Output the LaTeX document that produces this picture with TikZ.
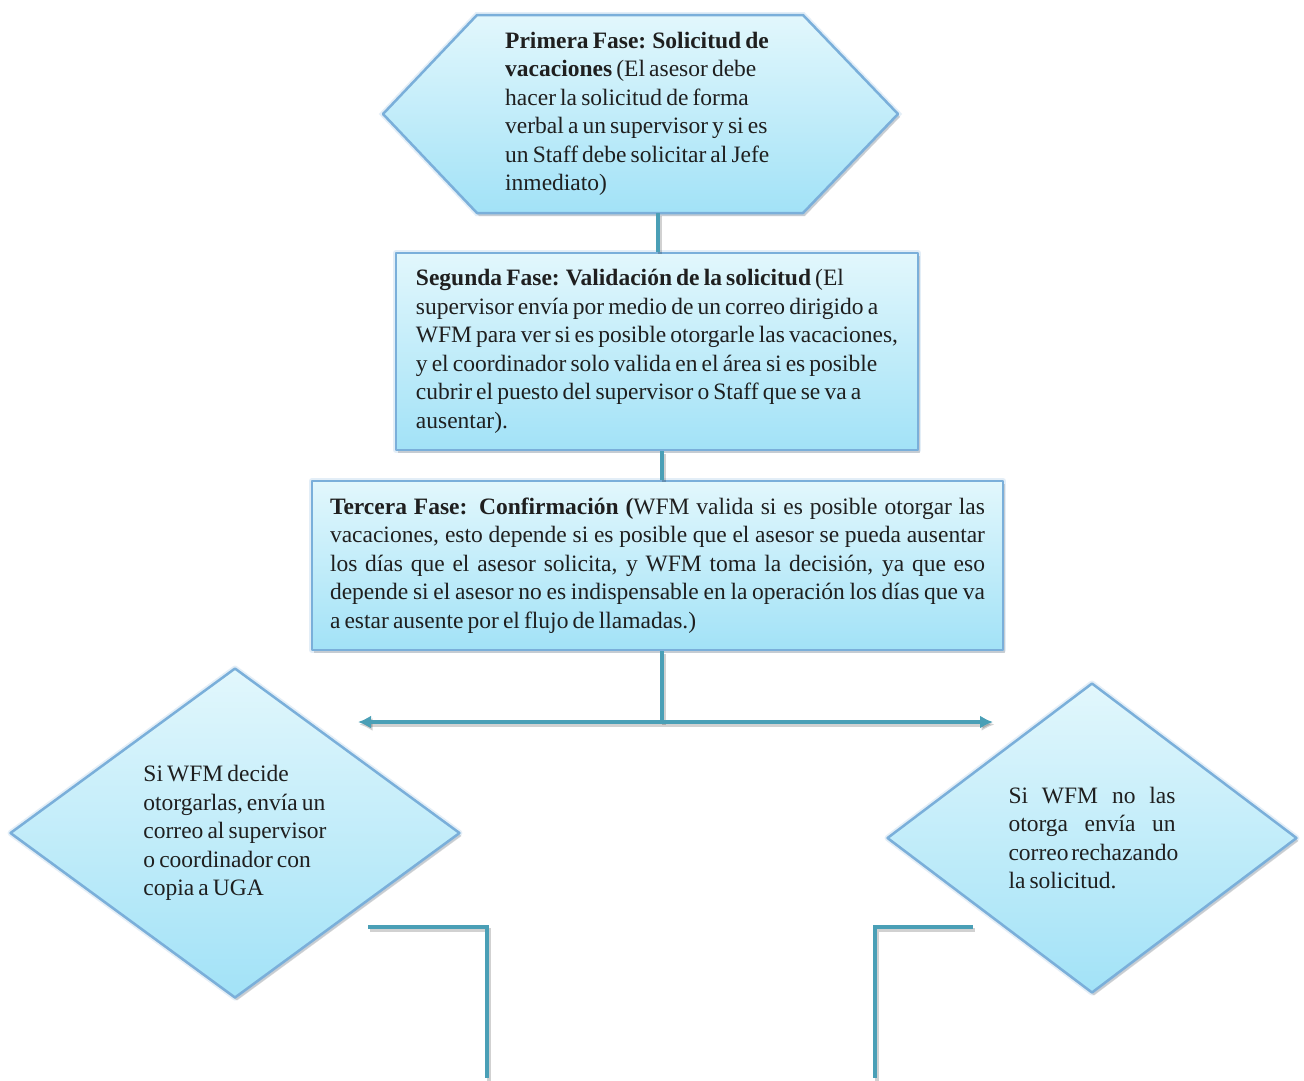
\documentclass[tikz,border=0pt]{standalone}
\usepackage{fontspec}
\setmainfont{LiberationSerif}[Extension=.ttf, UprightFont=*-Regular, BoldFont=*-Bold, ItalicFont=*-Italic, BoldItalicFont=*-BoldItalic, WordSpace=0.7]
\usetikzlibrary{shapes.geometric,shadows,arrows.meta}
\definecolor{fillTop}{HTML}{E2F7FC}
\definecolor{fillBot}{HTML}{A2E2F7}
\definecolor{edgeC}{HTML}{7AAFDA}
\definecolor{lineC}{HTML}{4A9FB6}
\begin{document}
\begin{tikzpicture}[x=1pt,y=-1pt,
  shapebox/.style={draw=edgeC, line width=2.5pt, top color=fillTop, bottom color=fillBot,
    preaction={draw=edgeC!60, opacity=0.35, line width=6pt},
    drop shadow={opacity=0.3, shadow xshift=2pt, shadow yshift=-3pt}, line join=round},
  txt/.style={inner sep=0pt, font=\fontsize{23.5}{28.5}\selectfont, align=left, text=black!88},
  conn/.style={draw=lineC, line width=4pt,
    preaction={draw=black, opacity=0.18, line width=4pt, transform canvas={xshift=1.5pt,yshift=-2.5pt}}},
  arr/.style={conn, {Latex[length=13pt,width=13pt]}-{Latex[length=13pt,width=13pt]}}
]
\fill[white] (0,0) rectangle (1304,1080);
\useasboundingbox (0,0) rectangle (1304,1080);

% Primera fase (hexagon)
\path[shapebox] (383,114) -- (477,15) -- (803,15) -- (898,114) -- (803,213) -- (477,213) -- cycle;
\coordinate (hexS) at (658,213);
\node[txt, anchor=west] (t1) at (505,114) {\textbf{Primera Fase: Solicitud de}\\
\textbf{vacaciones} (El asesor debe\\
hacer la solicitud de forma\\
verbal a un supervisor y si es\\
un Staff debe solicitar al Jefe\\
inmediato)};

% Segunda fase
\node[shapebox, txt, minimum width=522pt, minimum height=197pt] (b2) at (657,351.5) {\textbf{Segunda Fase: Validación de la solicitud} (El\\
supervisor envía por medio de un correo dirigido a\\
WFM para ver si es posible otorgarle las vacaciones,\\
y el coordinador solo valida en el área si es posible\\
cubrir el puesto del supervisor o Staff que se va a\\
ausentar).};

% Tercera fase
\node[shapebox, txt, minimum width=691pt, minimum height=169pt] (b3) at (657.5,565.5) {\makebox[655pt][s]{\textbf{Tercera Fase: Confirmación (}WFM valida si es posible otorgar las}\\
\makebox[655pt][s]{vacaciones, esto depende si es posible que el asesor se pueda ausentar}\\
\makebox[655pt][s]{los días que el asesor solicita, y WFM toma la decisión, ya que eso}\\
\makebox[655pt][s]{depende si el asesor no es indispensable en la operación los días que va}\\
a estar ausente por el flujo de llamadas.)};

% Diamonds
\node[diamond, shapebox, txt, minimum width=450pt, minimum height=330pt] (d1) at (235,833) {Si WFM decide\\
otorgarlas, envía un\\
correo al supervisor\\
o coordinador con\\
copia a UGA};

\node[diamond, shapebox, txt, minimum width=410pt, minimum height=310pt] (d2) at (1092,838) {\makebox[167pt][s]{Si WFM no las}\\
\makebox[167pt][s]{otorga envía un}\\
\makebox[167pt][s]{correo rechazando}\\
la solicitud.};

% Connectors
\draw[conn] (hexS) -- (hexS |- b2.north);
\draw[conn] ([xshift=5pt]b2.south) -- ([xshift=5pt]b2.south |- b3.north);
\coordinate (split) at (662,722);
\coordinate (aL) at (358,722);
\coordinate (aR) at (993,722);
\draw[conn] ([xshift=4.5pt]b3.south) -- (split);
\draw[arr] (aL) -- (aR);

\coordinate (cl1) at (368,927);
\coordinate (cl2) at (487,927);
\coordinate (cl3) at (487,1078);
\draw[conn] (cl1) -- (cl2) -- (cl3);
\coordinate (cr1) at (973,927);
\coordinate (cr2) at (875,927);
\coordinate (cr3) at (875,1078);
\draw[conn] (cr1) -- (cr2) -- (cr3);
\end{tikzpicture}
\end{document}
